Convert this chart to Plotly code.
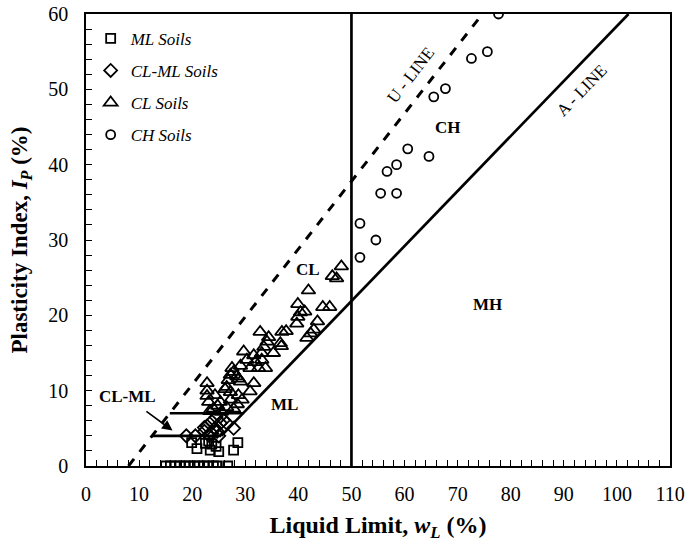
import plotly.graph_objects as go

# ---------------- data ----------------
ml_wl = [15.0, 15.9, 16.8, 17.7, 18.6, 19.5, 20.4, 21.3, 22.2, 23.1, 24.0, 24.6, 26.7,
         19.9, 20.9, 22.5, 23.1, 23.7, 23.4, 24.5, 25.0, 27.8, 28.6]
ml_pi = [0, 0, 0, 0, 0, 0, 0, 0, 0, 0, 0, 0, 0,
         3.1, 2.3, 3.0, 3.3, 2.9, 2.1, 2.6, 1.9, 2.1, 3.1]

clml_wl = [18.9, 20.6, 22.3, 23.1, 22.3, 23.7, 24.7, 24.3, 25.3, 25.9, 22.8, 23.7, 26.5, 27.8, 25.0, 24.5]
clml_pi = [4.0, 4.0, 4.6, 4.1, 5.1, 4.3, 4.6, 5.0, 5.7, 6.1, 5.3, 5.9, 5.7, 5.0, 4.0, 6.5]

cl_wl = [48.1, 46.4, 47.2, 41.9, 39.9, 44.6, 45.9, 40.4, 41.2, 39.9, 39.7, 43.6, 42.9, 37.7, 36.9, 42.3, 41.6,
         32.8, 34.4, 36.6, 34.1, 33.5, 36.8, 35.3, 33.1, 29.7, 31.6, 30.3, 31.9, 33.1, 33.8, 32.5, 30.9,
         29.1, 27.5, 27.8, 27.2, 28.4, 26.8, 29.1, 31.6, 22.8, 26.5, 28.7,
         22.8, 24.3, 26.2, 27.2, 28.7, 30.9, 29.4, 27.2, 25.3, 23.1, 22.8, 24.0, 25.5, 26.5, 23.3, 27.8,
         28.5, 24.8]
cl_pi = [26.5, 25.2, 24.9, 23.3, 21.5, 21.1, 21.1, 20.4, 20.5, 19.8, 18.9, 19.2, 18.1, 17.9, 17.8, 17.6, 17.0,
         17.8, 17.1, 16.3, 16.5, 15.8, 15.9, 15.0, 15.0, 15.2, 14.7, 14.1, 13.8, 14.1, 13.0, 13.0, 13.0,
         13.3, 13.0, 12.5, 12.1, 11.9, 11.4, 11.2, 11.0, 11.0, 10.5, 11.6,
         10.0, 9.4, 10.2, 9.8, 9.4, 9.9, 8.8, 8.8, 8.5, 8.5, 9.3, 7.6, 7.2, 7.8, 7.3, 7.6,
         8.2, 8.0]

ch_wl = [77.7, 72.6, 75.6, 65.5, 67.7, 60.6, 64.6, 56.7, 58.5, 55.5, 58.5, 51.6, 54.6, 51.6]
ch_pi = [60.0, 54.1, 55.0, 49.0, 50.1, 42.1, 41.1, 39.1, 40.0, 36.2, 36.2, 32.2, 30.0, 27.7]

# reference lines (end points)
u_line_x = [8.0, 74.67]
u_line_y = [0.0, 60.0]
a_line_x = [25.48, 102.19]
a_line_y = [4.0, 60.0]
pi4_x = [12.44, 25.48]
pi4_y = [4.0, 4.0]
pi7_x = [15.78, 29.59]
pi7_y = [7.0, 7.0]
wl50_x = [50, 50]
wl50_y = [0, 60]

x_ticks = [0, 10, 20, 30, 40, 50, 60, 70, 80, 90, 100, 110]
y_ticks = [0, 10, 20, 30, 40, 50, 60]

FONT = "Liberation Serif, Times New Roman, serif"

fig = go.Figure()

for xs, ys, dash in [(wl50_x, wl50_y, "solid"), (u_line_x, u_line_y, "dash"),
                     (a_line_x, a_line_y, "solid"), (pi4_x, pi4_y, "solid"), (pi7_x, pi7_y, "solid")]:
    fig.add_trace(go.Scatter(x=xs, y=ys, mode="lines", showlegend=False,
                             line=dict(color="black", width=3 if dash == "dash" else 2.7, dash=dash),
                             hoverinfo="skip"))

mk = dict(color="black", width=1.8)
fig.add_trace(go.Scatter(x=ml_wl, y=ml_pi, mode="markers", name="<i>ML Soils</i>", legendgroup="a",
                         marker=dict(symbol="square-open", size=9, color="black", line=mk)))
fig.add_trace(go.Scatter(x=clml_wl, y=clml_pi, mode="markers", name="<i>CL-ML Soils</i>", legendgroup="b",
                         marker=dict(symbol="diamond-open", size=10, color="black", line=mk)))
fig.add_trace(go.Scatter(x=cl_wl, y=cl_pi, mode="markers", name="<i>CL Soils</i>", legendgroup="c",
                         marker=dict(symbol="triangle-up-open", size=12, color="black", line=mk)))
fig.add_trace(go.Scatter(x=ch_wl, y=ch_pi, mode="markers", name="<i>CH Soils</i>", legendgroup="d",
                         marker=dict(symbol="circle-open", size=9, color="black", line=mk)))

bold = dict(family=FONT, size=17, color="black")
anns = [
    dict(x=7.9, y=9.2, text="<b>CL-ML</b>"),
    dict(x=37.3, y=8.2, text="<b>ML</b>"),
    dict(x=41.9, y=26.1, text="<b>CL</b>"),
    dict(x=68.2, y=44.9, text="<b>CH</b>"),
    dict(x=75.7, y=21.4, text="<b>MH</b>"),
]
for a in anns:
    fig.add_annotation(x=a["x"], y=a["y"], text=a["text"], showarrow=False, font=bold)

fig.add_annotation(x=61.1, y=51.9, text="U - LINE", showarrow=False, textangle=-52,
                   font=dict(family=FONT, size=17, color="black"))
fig.add_annotation(x=93.4, y=49.8, text="A - LINE", showarrow=False, textangle=-46,
                   font=dict(family=FONT, size=17, color="black"))
# arrow for CL-ML
fig.add_annotation(x=16.3, y=4.7, ax=11.1, ay=7.4, axref="x", ayref="y", xref="x", yref="y",
                   text="", showarrow=True, arrowhead=2, arrowsize=1.3, arrowwidth=1.6, arrowcolor="black")

axis_common = dict(showline=True, linecolor="black", linewidth=1.5, mirror=True,
                   ticks="inside", ticklen=6, tickwidth=1.3, tickcolor="black",
                   showgrid=False, zeroline=False, automargin=False, ticklabeloverflow="allow",
                   tickfont=dict(family=FONT, size=20, color="black"),
                   minor=dict(ticks="inside", ticklen=6, tickwidth=1.1, tickcolor="black", dtick=2, showgrid=False))

fig.update_xaxes(range=[0, 110], tickvals=x_ticks, ticktext=[str(v) for v in x_ticks],
                 ticklabelstandoff=9,
                 title=dict(text="<b>Liquid Limit, <i>w</i><sub><i>L</i></sub> (%)</b>",
                            font=dict(family=FONT, size=24, color="black"), standoff=12),
                 **axis_common)
fig.update_yaxes(range=[0, 60], tickvals=y_ticks, ticktext=[str(v) for v in y_ticks],
                 ticklabelstandoff=12,
                 title=dict(text="<b>Plasticity Index, <i>I</i><sub><i>P</i></sub> (%)</b>",
                            font=dict(family=FONT, size=23, color="black"), standoff=14),
                 **axis_common)

fig.update_layout(width=685, height=543, plot_bgcolor="white", paper_bgcolor="white",
                  margin=dict(l=86, r=15, t=14, b=77, autoexpand=False),
                  showlegend=True,
                  legend=dict(x=0.008, y=0.985, xanchor="left", yanchor="top", bgcolor="rgba(0,0,0,0)",
                              font=dict(family=FONT, size=17, color="black"),
                              tracegroupgap=7, itemwidth=30))

fig.write_html("out.html", config={"displayModeBar": False},
               post_script="document.body.style.margin='0';document.body.style.overflow='hidden';")
